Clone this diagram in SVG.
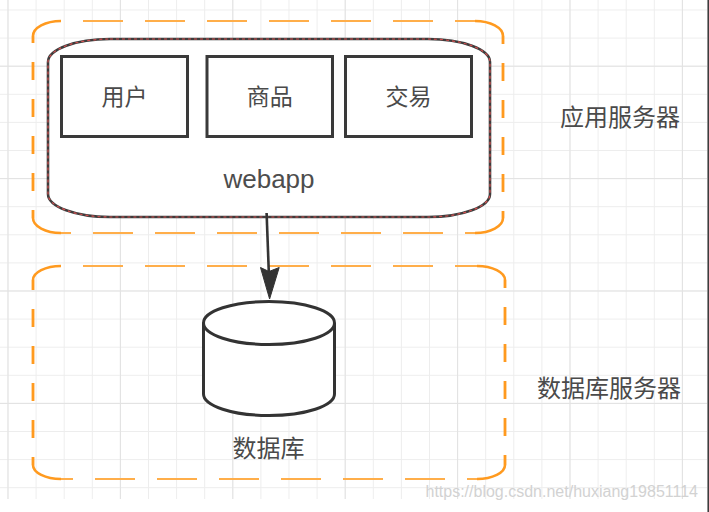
<svg xmlns="http://www.w3.org/2000/svg" width="709" height="512" viewBox="0 0 709 512">
<style>
.cjk{font-family:"Noto Sans CJK SC","Noto Sans",sans-serif;fill:#4a4a4a;}
.lat{font-family:"Liberation Sans",Arial,sans-serif;fill:#4d4d4d;}
.box{fill:#fff;stroke:#3a3a3a;stroke-width:3;}
.og{fill:none;stroke:#ff9a1f;stroke-linecap:butt;}
.oh{stroke-width:2.2;stroke:#ffae4a;stroke-dasharray:40 22;}
.ov{stroke-width:2.8;stroke-dasharray:18 19;}
.oc{stroke-width:2.6;}
</style>
<defs>
<pattern id="gmin" patternUnits="userSpaceOnUse" x="7.5" y="9.5" width="28.1" height="28.1">
<path d="M0,0.5H28.1M0.5,0V28.1" stroke="#ededed" stroke-width="1" fill="none"/>
</pattern>
<pattern id="gmaj" patternUnits="userSpaceOnUse" x="7.5" y="65.7" width="112.4" height="112.4">
<path d="M0,0.5H112.4M0.5,0V112.4" stroke="#e2e2e2" stroke-width="1" fill="none"/>
</pattern>
</defs>
<rect width="709" height="512" fill="#fff"/>
<rect x="0" y="0" width="707" height="499" fill="url(#gmin)"/>
<rect x="0" y="0" width="707" height="499" fill="url(#gmaj)"/>
<line x1="708.2" y1="0" x2="708.2" y2="512" stroke="#333" stroke-width="1.5"/>

<g id="app-server">
<g class="og">
<path class="oc" d="M33,36 A28,15 0 0 1 61,21"/>
<path class="oc" d="M475,21 A28,15 0 0 1 503,36"/>
<path class="oc" d="M503,218 A28,15 0 0 1 475,233"/>
<path class="oc" d="M61,233 A28,15 0 0 1 33,218"/>
<path class="oh" d="M61,21 H475" stroke-dashoffset="40"/>
<path class="oh" d="M475,233 H61" stroke-dashoffset="30"/>
<path class="ov" d="M33,218 V36" stroke-dashoffset="10"/>
<path class="ov" d="M503,36 V218" stroke-dashoffset="10"/>
</g>
<text class="cjk" x="560" y="125.5" font-size="24">应用服务器</text>
</g>

<g id="db-server">
<g class="og">
<path class="oc" d="M33,280 A28,14 0 0 1 61,266"/>
<path class="oc" d="M477,266 A28,14 0 0 1 505,280"/>
<path class="oc" d="M505,465 A28,14 0 0 1 477,479"/>
<path class="oc" d="M61,479 A28,14 0 0 1 33,465"/>
<path class="oh" d="M61,266 H477" stroke-dashoffset="40"/>
<path class="oh" d="M477,479 H61" stroke-dashoffset="30"/>
<path class="ov" d="M33,465 V280" stroke-dashoffset="10"/>
<path class="ov" d="M505,280 V465" stroke-dashoffset="10"/>
</g>
<text class="cjk" x="537" y="396.6" font-size="24">数据库服务器</text>
</g>

<g id="webapp">
<path d="M110,39 H428 A62,23 0 0 1 490,62 V194 A62,23 0 0 1 428,217 H110 A62,23 0 0 1 48,194 V62 A62,23 0 0 1 110,39 Z" fill="#fff" stroke="#3d3d3d" stroke-width="2.6"/>
<path d="M110,39 H428 A62,23 0 0 1 490,62 V194 A62,23 0 0 1 428,217 H110 A62,23 0 0 1 48,194 V62 A62,23 0 0 1 110,39 Z" fill="none" stroke="#d55050" stroke-width="1.2" stroke-dasharray="3 3"/>
<text class="lat" x="269" y="188" font-size="26" text-anchor="middle">webapp</text>
</g>

<g id="user">
<rect class="box" x="61.5" y="56.5" width="126" height="80"/>
<text class="cjk" x="124.5" y="105.4" font-size="23" text-anchor="middle">用户</text>
</g>
<g id="goods">
<rect class="box" x="207" y="56.5" width="125.5" height="80"/>
<text class="cjk" x="269.7" y="105.4" font-size="23" text-anchor="middle">商品</text>
</g>
<g id="trade">
<rect class="box" x="345.5" y="56.5" width="126" height="80"/>
<text class="cjk" x="408.5" y="105.4" font-size="23" text-anchor="middle">交易</text>
</g>

<g id="connectors">
<line x1="266.6" y1="213" x2="268.8" y2="272" stroke="#333" stroke-width="2.6"/>
<polygon points="269.6,299 260.5,267.5 269,271.5 279.2,267.5" fill="#333" stroke="#333" stroke-width="1" stroke-linejoin="round"/>
</g>

<g id="database">
<path d="M203.5,323 V394 A65.5,21.5 0 0 0 334.5,394 V323" fill="#fff" stroke="#333" stroke-width="3"/>
<ellipse cx="269" cy="323" rx="65.5" ry="21.5" fill="#fff" stroke="#333" stroke-width="3"/>
<text class="cjk" x="268.5" y="456.6" font-size="24" text-anchor="middle">数据库</text>
</g>

<text x="698" y="497" font-family="Liberation Sans,Arial,sans-serif" font-size="16" text-anchor="end" fill="#d2d2d2">https://blog.csdn.net/huxiang19851114</text>
</svg>
